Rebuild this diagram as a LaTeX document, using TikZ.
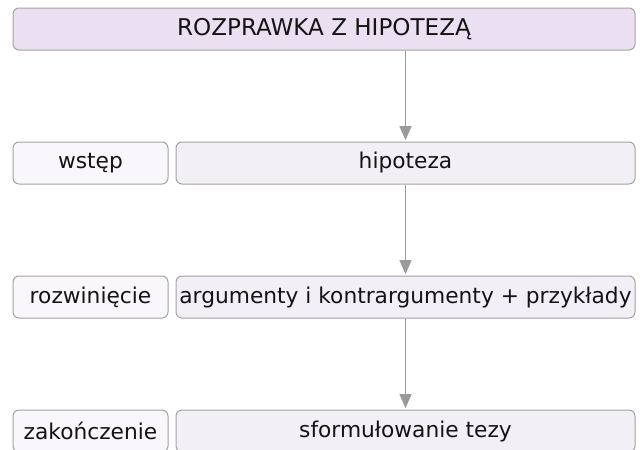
\documentclass[tikz,border=0pt]{standalone}
\usepackage{fontspec}
\setmainfont{DejaVu Sans}
\usepackage{tikz}
\usetikzlibrary{arrows.meta, positioning}

\definecolor{boxline}{HTML}{A2A2A2}
\definecolor{titlefill}{HTML}{EBE0F1}
\definecolor{mainfill}{HTML}{F3EFF7}
\definecolor{sidefill}{HTML}{F9F7FB}
\definecolor{arrowgray}{HTML}{9A9A9A}
\definecolor{textgray}{HTML}{141414}

\tikzset{
  box/.style={draw=boxline, line width=0.75pt, rounded corners=4.5pt,
    minimum height=31.5pt, inner sep=0pt, text=textgray,
    font=\fontsize{16.3pt}{19pt}\selectfont},
  titlebox/.style={box, fill=titlefill, minimum width=466.5pt,
    font=\fontsize{17.3pt}{20pt}\selectfont},
  mainbox/.style={box, fill=mainfill, minimum width=344.25pt},
  sidebox/.style={box, fill=sidefill, minimum width=116.25pt},
  flow/.style={draw=arrowgray, line width=0.75pt,
    -{Triangle[width=9pt, length=10.5pt]}, shorten >=1pt}
}

\begin{document}
\begin{tikzpicture}[x=0.75pt, y=-0.75pt]
      \useasboundingbox (0,0) rectangle (643,450);
      \node[titlebox] (title) at (324, 29) {ROZPRAWKA Z HIPOTEZĄ};
      \node[sidebox] (intro) at (90.5, 163) {wstęp};
      \node[mainbox] (hypothesis) at (405.5, 163) {hipoteza};
      \node[sidebox] (body) at (90.5, 297) {rozwinięcie};
      \node[mainbox] (arguments) at (405.5, 297) {argumenty i kontrargumenty + przykłady};
      \node[sidebox] (ending) at (90.5, 431) {zakończenie};
      \node[mainbox] (thesis) at (405.5, 431) {sformułowanie tezy};
      \coordinate (start) at (hypothesis.north |- title.south);
      \draw[flow] (start) -- (hypothesis.north);
      \draw[flow] (hypothesis) -- (arguments);
      \draw[flow] (arguments) -- (thesis);
    \end{tikzpicture}
\end{document}
